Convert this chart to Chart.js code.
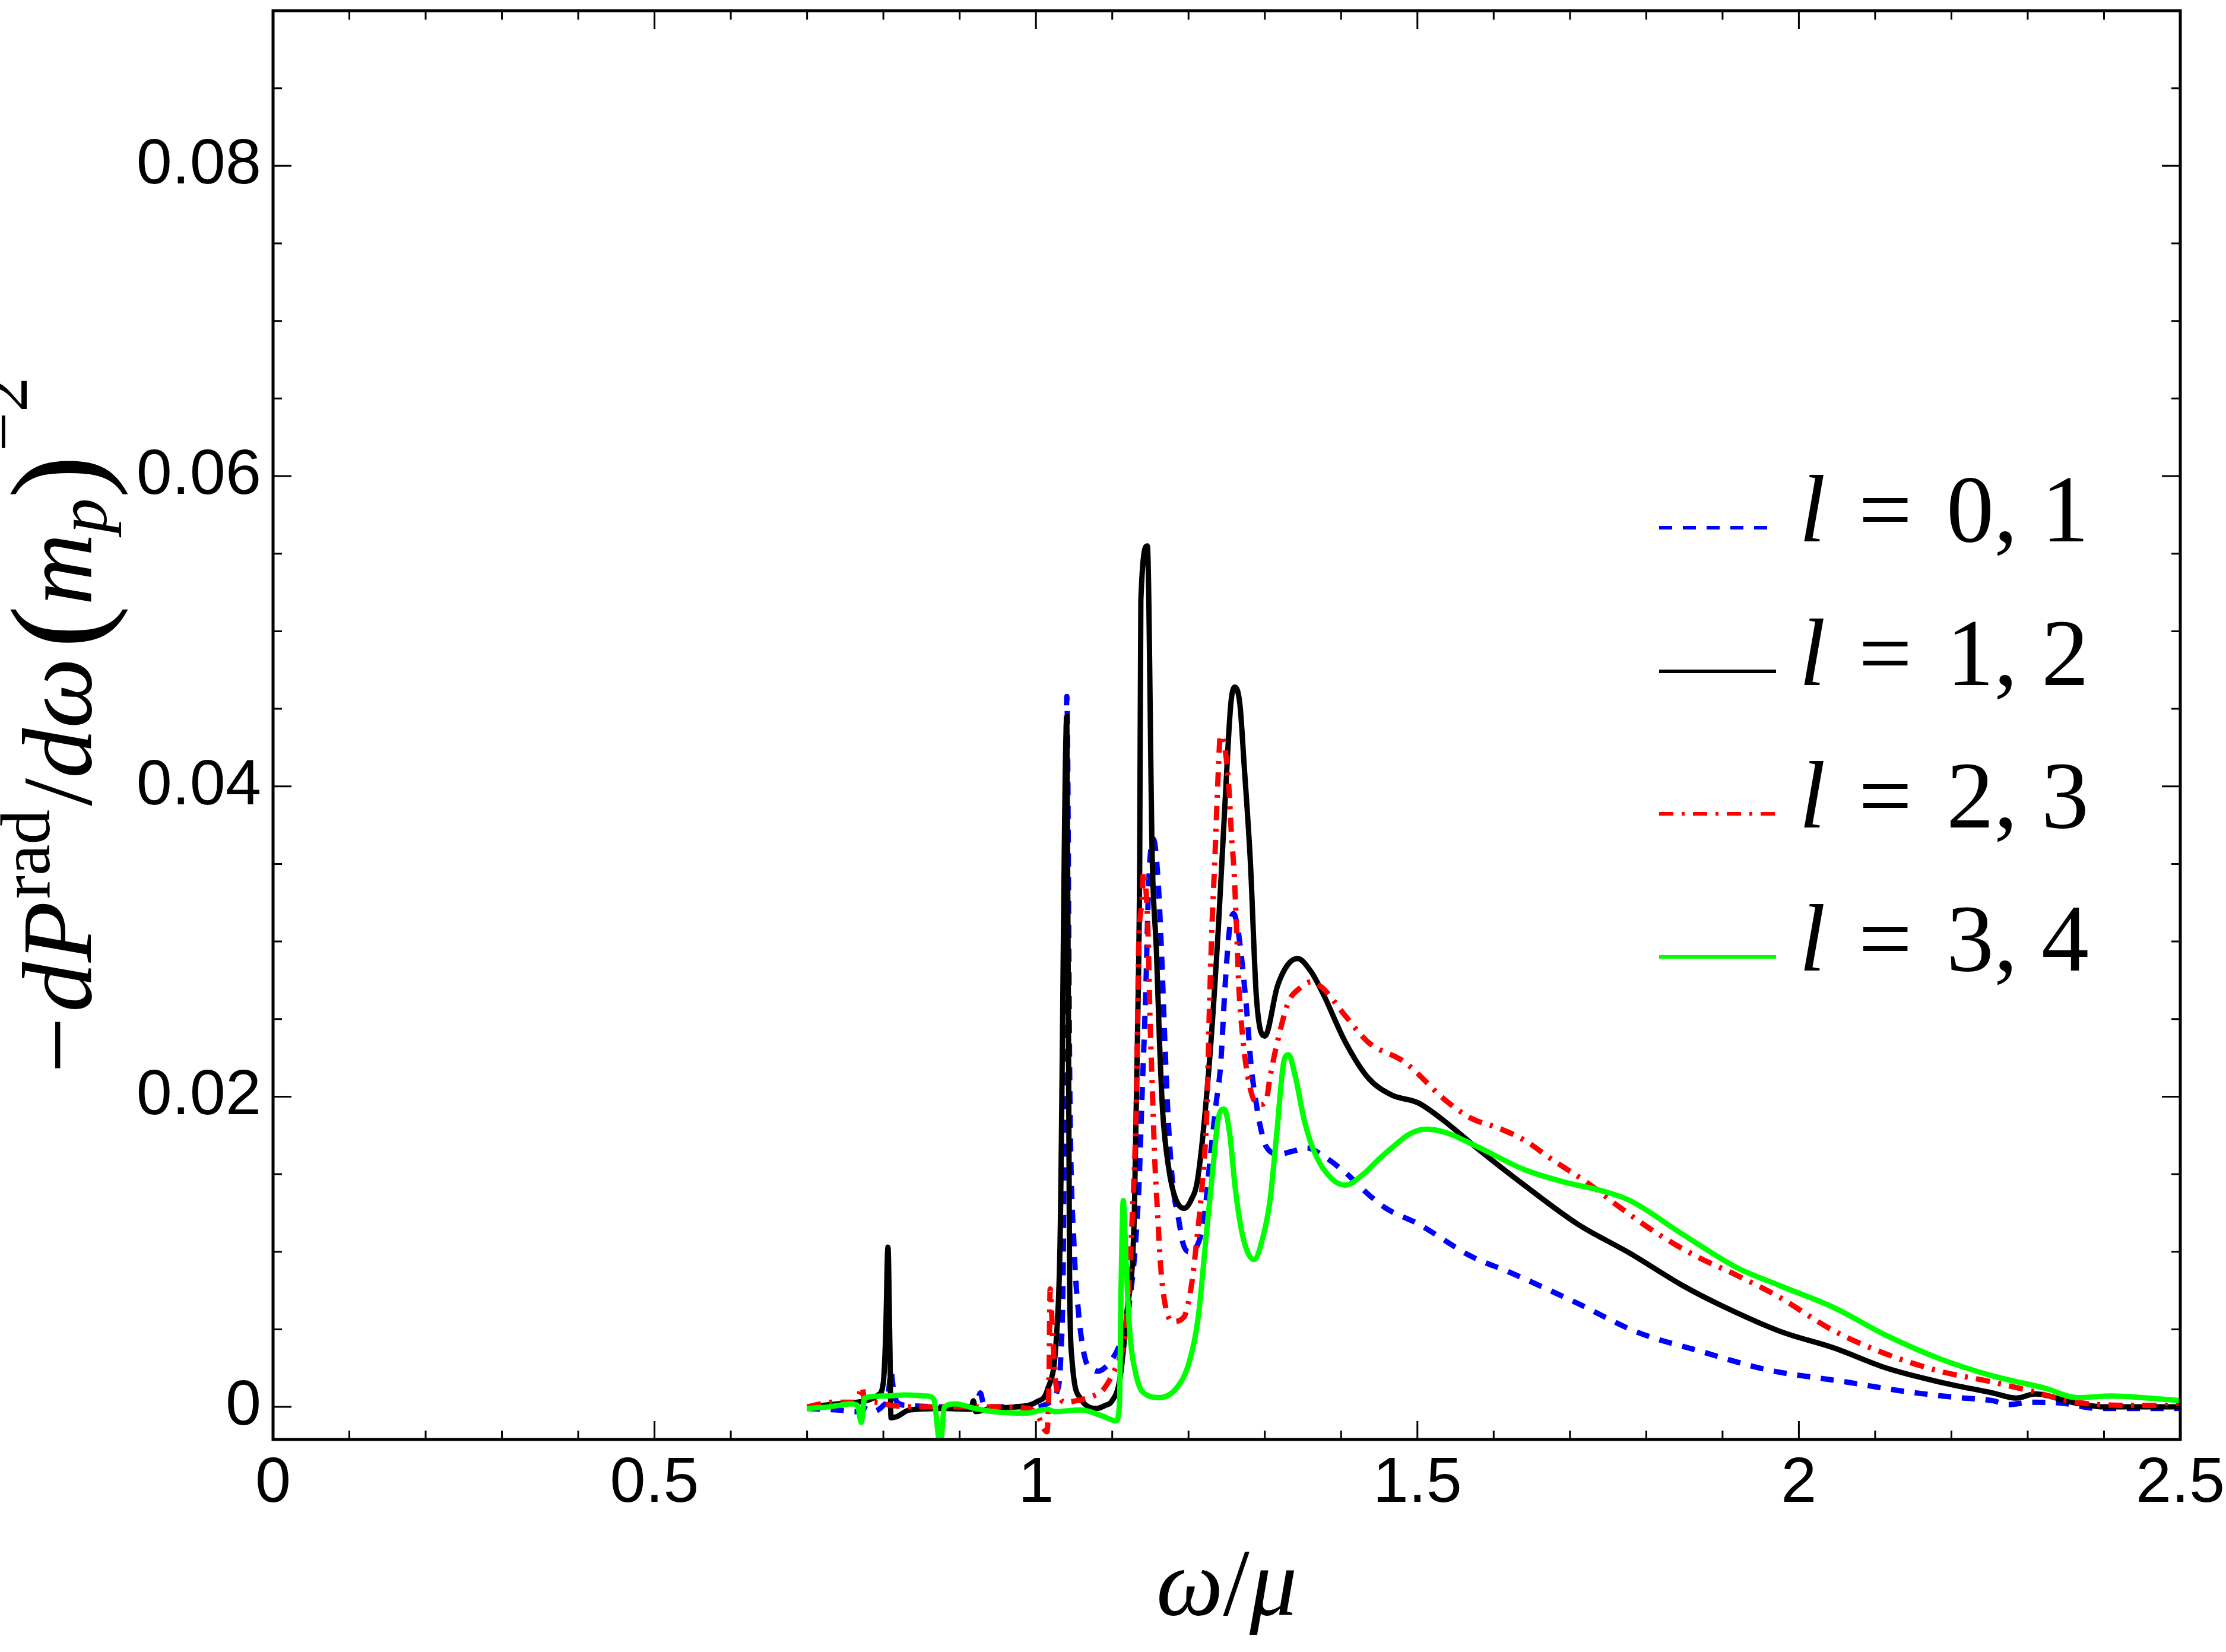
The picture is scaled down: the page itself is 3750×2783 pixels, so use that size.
<!DOCTYPE html>
<html>
<head>
<meta charset="utf-8">
<script src="https://cdn.jsdelivr.net/npm/chart.js@4.4.1/dist/chart.umd.min.js"></script>
<style>
  html, body { margin: 0; padding: 0; background: #fff; }
  #wrap { width: 3750px; height: 2783px; }
</style>
</head>
<body>
<div id="wrap"><canvas id="chart" width="3750" height="2783"></canvas></div>
<script>
// omega/mu and -dP/domega for each l pair
const xL01 = [0.70,0.74,0.765,0.775,0.786,0.80,0.806,0.810,0.813,0.818,0.83,0.90,0.922,0.927,0.932,0.95,1.00,1.018,1.027,1.0325,1.036,1.0405,1.0445,1.050,1.056,1.064,1.075,1.082,1.092,1.099,1.111,1.122,1.1348,1.139,1.1437,1.148,1.154,1.160,1.1646,1.169,1.1735,1.1794,1.187,1.193,1.201,1.209,1.2205,1.2287,1.236,1.242,1.248,1.2537,1.259,1.264,1.2687,1.276,1.282,1.288,1.294,1.3015,1.319,1.338,1.355,1.376,1.4057,1.4357,1.459,1.501,1.5707,1.62,1.709,1.789,1.87,1.958,2.063,2.133,2.202,2.254,2.275,2.303,2.343,2.393,2.45,2.5];
const yL01 = [-0.0001,-0.0002,-0.0003,-0.0001,-0.0003,0.0001,0.0006,0.0023,0.0012,0.0003,0.0001,0.0,0.0001,0.0009,0.0001,0.0,0.0,0.0003,0.0009,0.0032,0.0103,0.0458,0.02,0.0103,0.006,0.0032,0.0024,0.0023,0.0026,0.003,0.0042,0.0065,0.014,0.02,0.0264,0.034,0.0366,0.034,0.0293,0.0235,0.0184,0.0143,0.0121,0.0105,0.0100,0.0102,0.0122,0.0162,0.0195,0.022,0.0272,0.0308,0.0318,0.031,0.0293,0.0257,0.022,0.0198,0.0181,0.0168,0.0163,0.0165,0.0167,0.0162,0.0151,0.0137,0.0128,0.0118,0.0097,0.0087,0.0067,0.0048,0.0036,0.0024,0.0016,0.00104,0.00063,0.0004,0.00015,0.0003,0.00025,-0.0001,-0.0001,-0.0001];

const xL12 = [0.70,0.74,0.771,0.794,0.800,0.803,0.806,0.8085,0.810,0.817,0.834,0.88,0.915,0.918,0.921,0.94,0.973,1.0015,1.015,1.027,1.0315,1.0405,1.044,1.047,1.059,1.069,1.079,1.091,1.099,1.11,1.119,1.129,1.1335,1.136,1.1375,1.146,1.1525,1.158,1.162,1.166,1.174,1.1824,1.194,1.203,1.212,1.227,1.239,1.248,1.2554,1.2605,1.2673,1.273,1.281,1.289,1.300,1.3164,1.33,1.343,1.36,1.3757,1.4057,1.4356,1.4664,1.501,1.536,1.5776,1.640,1.7095,1.7787,1.8485,1.9,1.976,2.046,2.115,2.185,2.254,2.285,2.31,2.358,2.4,2.5];
const yL12 = [0.0,0.0002,0.00034,0.0008,0.0016,0.0046,0.0103,0.004,-0.0007,-0.00064,-0.0002,-0.0001,-0.00015,0.0004,-0.0003,-0.0001,0.0,0.00034,0.0011,0.0046,0.0103,0.0445,0.0088,0.0032,0.0005,0.0,-0.0001,0.0001,0.00034,0.0018,0.006,0.0125,0.025,0.0352,0.052,0.0555,0.0352,0.0293,0.0235,0.0191,0.0154,0.0135,0.0128,0.0133,0.0147,0.022,0.0308,0.0391,0.0453,0.0464,0.0453,0.0413,0.0352,0.0264,0.0239,0.0271,0.0285,0.0289,0.0281,0.0267,0.0235,0.0212,0.0201,0.0196,0.0184,0.0167,0.0143,0.0118,0.0099,0.0078,0.0065,0.00486,0.0038,0.0025,0.0016,0.0009,0.00057,0.00084,0.0003,0.0,0.0];

const xL23 = [0.70,0.733,0.76,0.768,0.772,0.776,0.789,0.81,0.85,0.95,0.99,1.0015,1.0143,1.017,1.0186,1.022,1.027,1.04,1.053,1.075,1.088,1.1015,1.11,1.117,1.126,1.132,1.1345,1.139,1.141,1.1467,1.1496,1.1525,1.1555,1.1594,1.1634,1.169,1.179,1.194,1.204,1.2107,1.2177,1.224,1.227,1.2306,1.2344,1.2387,1.2418,1.249,1.2533,1.2562,1.2597,1.263,1.2658,1.2717,1.2777,1.2866,1.2945,1.3015,1.307,1.3164,1.331,1.3462,1.3607,1.3757,1.4057,1.4357,1.4839,1.536,1.5707,1.605,1.640,1.675,1.727,1.7616,1.8137,1.866,1.918,1.970,2.046,2.115,2.185,2.254,2.306,2.358,2.425,2.5];
const yL23 = [0.0,0.0003,0.0003,0.0008,0.0013,0.0003,0.0003,0.0001,0.0,0.0,-0.0001,-0.0005,-0.0016,0.0015,0.0076,0.0045,0.0012,0.0003,0.0004,0.0007,0.0011,0.0022,0.0032,0.0047,0.012,0.0206,0.0293,0.0327,0.0345,0.0308,0.0249,0.0206,0.0162,0.0125,0.0091,0.0067,0.0055,0.0058,0.0079,0.0107,0.0142,0.0191,0.025,0.0308,0.0352,0.0406,0.0433,0.042,0.0396,0.0369,0.0345,0.0308,0.0272,0.0235,0.0213,0.0197,0.0195,0.0197,0.0213,0.0235,0.0261,0.027,0.0274,0.027,0.0252,0.0235,0.0222,0.0198,0.0186,0.018,0.0172,0.016,0.0143,0.013,0.0112,0.0097,0.0085,0.0072,0.0049,0.0034,0.0023,0.0016,0.001,0.00034,0.0001,0.0001];

const xL34 = [0.70,0.728,0.758,0.766,0.771,0.7754,0.80,0.8287,0.8575,0.866,0.8746,0.880,0.894,0.92,0.944,0.9866,1.0155,1.024,1.059,1.088,1.105,1.1095,1.1115,1.1145,1.118,1.1222,1.1315,1.1453,1.162,1.184,1.201,1.2125,1.2233,1.2318,1.2387,1.2465,1.254,1.261,1.2706,1.2858,1.2983,1.3065,1.315,1.3255,1.331,1.340,1.352,1.367,1.388,1.4057,1.429,1.450,1.4664,1.49,1.5116,1.536,1.5776,1.640,1.692,1.7443,1.7787,1.8485,1.918,1.976,2.046,2.115,2.185,2.254,2.323,2.365,2.41,2.45,2.5];
const yL34 = [-0.0001,0.0,0.0002,0.0001,-0.001,0.00057,0.0007,0.00077,0.0007,0.0005,-0.0025,0.0,0.0002,-0.0001,-0.0003,-0.0004,-0.00015,-0.0003,-0.0002,-0.0006,-0.0009,0.0002,0.0075,0.0133,0.0095,0.0053,0.002,0.00077,0.0006,0.0012,0.0029,0.0057,0.0111,0.0153,0.0185,0.0192,0.0176,0.0142,0.0111,0.0095,0.0111,0.0132,0.0173,0.0224,0.0227,0.0213,0.0184,0.0162,0.0147,0.0143,0.015,0.016,0.0167,0.0176,0.0179,0.0177,0.0168,0.0153,0.0145,0.0139,0.0133,0.0111,0.009,0.0078,0.0064,0.0046,0.0031,0.002,0.0012,0.0006,0.0007,0.0006,0.0004];

const xTicks = [0, 0.5, 1, 1.5, 2, 2.5];
const yTicks = [0, 0.02, 0.04, 0.06, 0.08];
const seriesNames = ['0, 1', '1, 2', '2, 3', '3, 4'];

const SERIF = '"Liberation Serif", "DejaVu Serif", serif';
const SANS = '"Liberation Sans", Arial, sans-serif';

function toPoints(xs, ys) {
  return xs.map((x, i) => ({ x: x, y: ys[i] }));
}

function lineSet(label, xs, ys, color, dash, order) {
  return {
    label: label,
    data: toPoints(xs, ys),
    borderColor: color,
    backgroundColor: color,
    borderWidth: 9,
    borderDash: dash,
    borderCapStyle: 'butt',
    pointRadius: 0,
    fill: false,
    cubicInterpolationMode: 'monotone',
    clip: 0,
    order: order
  };
}

// frame with inward ticks on all four sides (Mathematica style)
const frameTicks = {
  id: 'frameTicks',
  afterDraw(chart) {
    const { ctx, chartArea: a, scales: { x, y } } = chart;
    ctx.save();
    ctx.strokeStyle = '#000';
    ctx.setLineDash([]);
    ctx.lineWidth = 3;
    ctx.beginPath();
    for (let i = 0; i <= 25; i++) {
      const px = x.getPixelForValue(i / 10);
      const len = i % 5 === 0 ? 31 : 15;
      ctx.moveTo(px, a.bottom); ctx.lineTo(px, a.bottom - len);
      ctx.moveTo(px, a.top); ctx.lineTo(px, a.top + len);
    }
    for (let i = 0; i < 18; i++) {
      const py = y.getPixelForValue(i * 0.005);
      const len = i % 4 === 0 ? 31 : 15;
      ctx.moveTo(a.left, py); ctx.lineTo(a.left + len, py);
      ctx.moveTo(a.right, py); ctx.lineTo(a.right - len, py);
    }
    ctx.stroke();
    ctx.lineWidth = 5;
    ctx.strokeRect(a.left, a.top, a.width, a.height);
    ctx.restore();
  }
};

// axis titles with italics, super- and subscripts
function drawParts(ctx, parts) {
  let total = 0;
  parts.forEach(p => {
    ctx.font = p.font;
    p.w = ctx.measureText(p.t).width;
    total += p.w + (p.gap || 0);
  });
  let cx = -total / 2;
  parts.forEach(p => {
    ctx.font = p.font;
    ctx.fillText(p.t, cx, p.dy || 0);
    cx += p.w + (p.gap || 0);
  });
}

const axisTitles = {
  id: 'axisTitles',
  afterDraw(chart) {
    const { ctx, chartArea: a } = chart;
    const F = 168, S = 118;
    ctx.save();
    ctx.fillStyle = '#000';
    ctx.textBaseline = 'alphabetic';
    ctx.textAlign = 'left';

    // x title
    ctx.save();
    ctx.translate((a.left + a.right) / 2, 2720);
    drawParts(ctx, [
      { t: 'ω', font: `italic 160px ${SERIF}` },
      { t: '/', font: `160px ${SERIF}` },
      { t: 'μ', font: `italic 160px ${SERIF}` }
    ]);
    ctx.restore();

    // y title
    ctx.save();
    ctx.translate(153, (a.top + a.bottom) / 2);
    ctx.rotate(-Math.PI / 2);
    drawParts(ctx, [
      { t: '−', font: `${F}px ${SERIF}`, gap: 8 },
      { t: 'dP', font: `italic ${F}px ${SERIF}`, gap: 4 },
      { t: 'rad', font: `${S}px ${SERIF}`, dy: -70, gap: 6 },
      { t: '/', font: `${F}px ${SERIF}` },
      { t: 'dω', font: `italic ${F}px ${SERIF}`, gap: 16 },
      { t: '(', font: `${Math.round(F * 1.3)}px ${SERIF}`, dy: 16 },
      { t: 'm', font: `italic ${F}px ${SERIF}` },
      { t: 'p', font: `italic ${S}px ${SERIF}`, dy: 26 },
      { t: ')', font: `${Math.round(F * 1.3)}px ${SERIF}`, dy: 16, gap: 6 },
      { t: '−2', font: `${S}px ${SERIF}`, dy: -108 }
    ]);
    ctx.restore();
    ctx.restore();
  }
};

// legend on the right: line sample + "l = a, b"
const lineLegend = {
  id: 'lineLegend',
  afterDraw(chart) {
    const ctx = chart.ctx;
    const rows = [889, 1131, 1371, 1612];
    const x0 = 2795, x1 = 2992, tx = 3031;
    ctx.save();
    chart.data.datasets.forEach((ds, i) => {
      const yy = rows[i];
      ctx.strokeStyle = ds.borderColor;
      ctx.lineWidth = 6;
      ctx.lineCap = 'butt';
      ctx.setLineDash(ds.borderDash || []);
      ctx.beginPath();
      ctx.moveTo(x0, yy);
      ctx.lineTo(x1, yy);
      ctx.stroke();
      ctx.setLineDash([]);
      ctx.fillStyle = '#000';
      ctx.textBaseline = 'alphabetic';
      ctx.textAlign = 'left';
      ctx.font = `italic 160px ${SERIF}`;
      ctx.fillText('l', tx, yy + 23);
      ctx.font = `160px ${SERIF}`;
      ctx.fillText('=', tx + 100, yy + 23);
      ctx.fillText(seriesNames[i], tx + 248, yy + 23);
    });
    ctx.restore();
  }
};

new Chart(document.getElementById('chart'), {
  type: 'line',
  data: {
    datasets: [
      lineSet('l = ' + seriesNames[0], xL01, yL01, '#0000ff', [22, 18], 3),
      lineSet('l = ' + seriesNames[1], xL12, yL12, '#000000', [], 2),
      lineSet('l = ' + seriesNames[2], xL23, yL23, '#ff0000', [24, 14, 5, 14], 1),
      lineSet('l = ' + seriesNames[3], xL34, yL34, '#00ff00', [], 0)
    ]
  },
  options: {
    responsive: false,
    animation: false,
    devicePixelRatio: 1,
    layout: { padding: { left: 0, right: 77, top: 18, bottom: 0 } },
    plugins: {
      legend: { display: false },
      tooltip: { enabled: false },
      title: { display: false }
    },
    scales: {
      x: {
        type: 'linear',
        min: 0,
        max: 2.5,
        grid: { display: false, drawTicks: false },
        border: { display: false },
        afterBuildTicks: s => { s.ticks = xTicks.map(v => ({ value: v })); },
        afterFit: s => {
          s.height = 358;
          s.paddingLeft = 0; s.paddingRight = 0;
        },
        ticks: {
          color: '#000',
          padding: 10,
          maxRotation: 0,
          font: { family: SANS, size: 108 },
          callback: v => String(v)
        }
      },
      y: {
        type: 'linear',
        min: -0.0021,
        max: 0.09,
        grid: { display: false, drawTicks: false },
        border: { display: false },
        afterBuildTicks: s => { s.ticks = yTicks.map(v => ({ value: v })); },
        afterFit: s => {
          s.width = 460;
          s.paddingTop = 0; s.paddingBottom = 0;
        },
        ticks: {
          color: '#000',
          padding: 20,
          font: { family: SANS, size: 108 },
          callback: v => String(v)
        }
      }
    }
  },
  plugins: [frameTicks, axisTitles, lineLegend]
});
</script>
</body>
</html>
